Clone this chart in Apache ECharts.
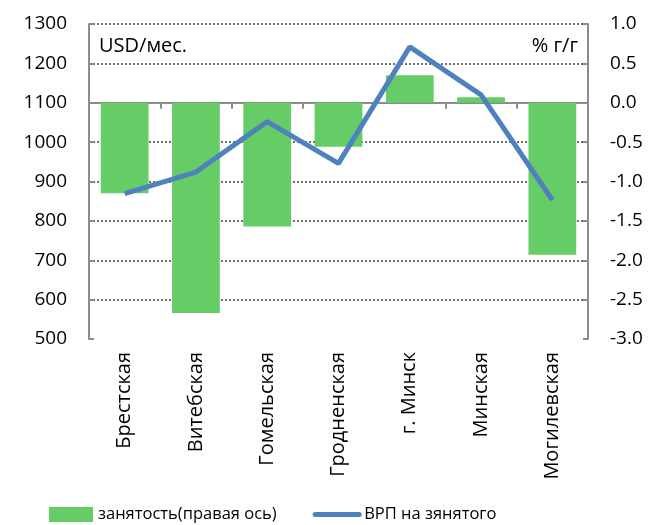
<!DOCTYPE html>
<html>
<head>
<meta charset="utf-8">
<script src="https://cdn.jsdelivr.net/npm/echarts@6/dist/echarts.min.js"></script>
<style>
  html, body { margin: 0; padding: 0; background: #fff; }
  #chart { width: 653px; height: 525px; }
</style>
</head>
<body>
<div id="chart"></div>
<script>
// regions
const categories = ['Брестская', 'Витебская', 'Гомельская', 'Гродненская', 'г. Минск', 'Минская', 'Могилевская'];
// employment, % y/y (right axis)
const employment = [-1.15, -2.67, -1.57, -0.56, 0.35, 0.07, -1.93];
// GRP per employed, USD/month (left axis)
const grpPerEmployed = [869, 924, 1052, 946, 1242, 1120, 853];

const FONT = 'Open Sans';
const axisGray = '#8c8c8c';

const chart = echarts.init(document.getElementById('chart'));
chart.setOption({
  animation: false,
  textStyle: { fontFamily: FONT },
  grid: { left: 89, right: 65, top: 24, bottom: 186 },
  legend: {
    top: 501,
    left: 44,
    itemGap: 36,
    itemWidth: 44,
    itemHeight: 15,
    textStyle: { fontFamily: FONT, fontSize: 16.5, color: '#000' },
    data: [
      { name: 'занятость(правая ось)', icon: 'rect' },
      { name: 'ВРП на зянятого', itemStyle: { opacity: 0 }, lineStyle: { width: 5, cap: 'round' } }
    ]
  },
  xAxis: {
    type: 'category',
    data: categories,
    axisLine: { lineStyle: { color: axisGray, width: 2 } },
    axisTick: { show: true, length: 6, lineStyle: { color: axisGray, width: 2 } },
    axisLabel: { rotate: 90, fontSize: 20, color: '#000', margin: 13, fontFamily: FONT }
  },
  yAxis: [
    {
      type: 'value',
      min: 500,
      max: 1300,
      interval: 100,
      axisLine: { show: true, lineStyle: { color: axisGray, width: 2 } },
      axisTick: { show: true, inside: true, length: 5, lineStyle: { color: axisGray, width: 2 } },
      axisLabel: { fontSize: 19, color: '#000', margin: 22, fontFamily: FONT, formatter: v => String(v) },
      splitLine: { show: true, showMinLine: false, lineStyle: { color: '#6e6e6e', type: 'dotted', width: 2, opacity: 1 } }
    },
    {
      type: 'value',
      min: -3,
      max: 1,
      interval: 0.5,
      axisLine: { show: true, lineStyle: { color: axisGray, width: 2 } },
      axisTick: { show: true, inside: true, length: 5, lineStyle: { color: axisGray, width: 2 } },
      axisLabel: {
        fontSize: 19, color: '#000', margin: 22, fontFamily: FONT,
        formatter: v => v.toFixed(1)
      },
      splitLine: { show: false }
    }
  ],
  graphic: [
    { type: 'text', left: 99, top: 36, style: { text: 'USD/мес.', font: '20px "Open Sans"', fill: '#000' } },
    { type: 'text', right: 75, top: 36, style: { text: '% г/г', font: '20px "Open Sans"', fill: '#000' } }
  ],
  series: [
    {
      name: 'занятость(правая ось)',
      type: 'bar',
      yAxisIndex: 1,
      data: employment,
      barWidth: '67%',
      z: 2,
      itemStyle: { color: '#66cc66' }
    },
    {
      name: 'ВРП на зянятого',
      type: 'line',
      yAxisIndex: 0,
      data: grpPerEmployed,
      symbol: 'none',
      z: 3,
      lineStyle: { color: '#4f81bd', width: 5 },
      itemStyle: { color: '#4f81bd' }
    }
  ]
});
</script>
</body>
</html>
